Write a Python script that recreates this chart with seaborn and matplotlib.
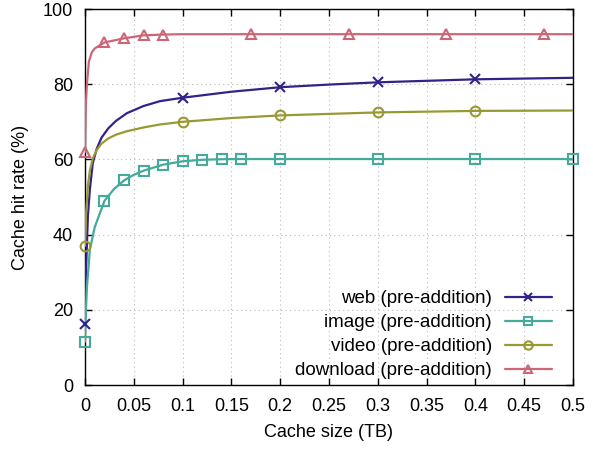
import matplotlib
matplotlib.use("Agg")
import matplotlib.pyplot as plt
from matplotlib.lines import Line2D
import seaborn as sns

# ===== DATA =====
labels = ["web (pre-addition)", "image (pre-addition)",
          "video (pre-addition)", "download (pre-addition)"]
colors = ["#332288", "#44aa99", "#999933", "#cc6677"]
markers = ["x", "s", "o", "^"]

web_x = [0, 0.001, 0.003, 0.005, 0.008, 0.012, 0.017, 0.024, 0.032, 0.043, 0.06, 0.077,
         0.1, 0.15, 0.2, 0.25, 0.3, 0.35, 0.4, 0.45, 0.5]
web_y = [16.5, 30, 45, 52, 59.0, 62.8, 65.8, 68.3, 70.3, 72.3, 74.2, 75.5,
         76.4, 78.0, 79.2, 79.9, 80.5, 80.9, 81.3, 81.5, 81.7]
web_mx = [0, 0.1, 0.2, 0.3, 0.4]
web_my = [16.3, 76.4, 79.2, 80.5, 81.3]

image_x = [0, 0.001, 0.002, 0.005, 0.01, 0.02, 0.03, 0.04, 0.05, 0.06, 0.08,
           0.1, 0.12, 0.14, 0.16, 0.2, 0.3, 0.4, 0.5]
image_y = [11.5, 20, 26, 36, 42, 49, 52.2, 54.4, 55.9, 57.0, 58.6,
           59.5, 59.9, 60.05, 60.1, 60.1, 60.1, 60.1, 60.1]
image_mx = [0, 0.02, 0.04, 0.06, 0.08, 0.1, 0.12, 0.14, 0.16, 0.2, 0.3, 0.4, 0.5]
image_my = [11.4, 49.0, 54.4, 57.0, 58.6, 59.5, 59.9, 60.05, 60.1, 60.1, 60.1, 60.1, 60.1]

video_x = [0, 0.001, 0.003, 0.005, 0.008, 0.012, 0.017, 0.024, 0.032, 0.043, 0.06, 0.077,
           0.1, 0.15, 0.2, 0.3, 0.4, 0.5]
video_y = [37, 45, 53, 57, 60.3, 62.5, 64.2, 65.6, 66.6, 67.5, 68.5, 69.3,
           70.0, 71.0, 71.7, 72.5, 72.9, 73.0]
video_mx = [0, 0.1, 0.2, 0.3, 0.4]
video_my = [37.0, 70.0, 71.7, 72.5, 72.9]

dl_x = [0, 0.001, 0.002, 0.004, 0.007, 0.01, 0.02, 0.04, 0.06, 0.08, 0.1, 0.2, 0.3, 0.4, 0.5]
dl_y = [62, 75, 80, 86, 88.5, 89.5, 91.1, 92.2, 93.0, 93.2, 93.3, 93.3, 93.3, 93.3, 93.3]
dl_mx = [0, 0.02, 0.04, 0.06, 0.08, 0.17, 0.27, 0.37, 0.47]
dl_my = [62.0, 91.1, 92.2, 93.0, 93.2, 93.3, 93.3, 93.3, 93.3]

lines = [(web_x, web_y), (image_x, image_y), (video_x, video_y), (dl_x, dl_y)]
points = [(web_mx, web_my), (image_mx, image_my), (video_mx, video_my), (dl_mx, dl_my)]

x_ticks = [0, 0.05, 0.1, 0.15, 0.2, 0.25, 0.3, 0.35, 0.4, 0.45, 0.5]
x_ticklabels = ["0", "0.05", "0.1", "0.15", "0.2", "0.25", "0.3", "0.35", "0.4", "0.45", "0.5"]
y_ticks = [0, 20, 40, 60, 80, 100]

# ===== PLOT =====
sns.set_style("ticks")
plt.rcParams["font.family"] = ["Liberation Sans", "DejaVu Sans"]
plt.rcParams["font.size"] = 13
plt.rcParams["text.color"] = "black"
plt.rcParams["axes.labelcolor"] = "black"
plt.rcParams["xtick.color"] = "black"
plt.rcParams["ytick.color"] = "black"

fig = plt.figure(figsize=(5.93, 4.5), dpi=100)
ax = fig.add_axes([0.1433, 0.1444, 0.823, 0.8356])

for (lx, ly), (mx, my), c, m in zip(lines, points, colors, markers):
    sns.lineplot(x=lx, y=ly, ax=ax, color=c, linewidth=1.6, sort=False,
                 estimator=None, zorder=3)
    ax.plot(mx, my, linestyle="none", marker=m, markersize=7,
            markerfacecolor="none", markeredgecolor=c, markeredgewidth=1.5,
            clip_on=False, zorder=4)

ax.set_xlim(0, 0.5)
ax.set_ylim(0, 100)
ax.set_xticks(x_ticks)
ax.set_xticklabels(x_ticklabels)
ax.set_yticks(y_ticks)
ax.grid(True, linestyle=(0, (1, 3)), color="#b8b8b8", linewidth=0.8)
ax.tick_params(direction="in", top=True, right=True, length=5, width=1, labelsize=13)
ax.tick_params(axis="x", pad=9.5)
ax.tick_params(axis="y", pad=8.5)
for sp in ax.spines.values():
    sp.set_linewidth(1)
    sp.set_color("black")

ax.set_xlabel("Cache size (TB)", fontsize=13)
ax.set_ylabel("Cache hit rate (%)", fontsize=13)
ax.xaxis.set_label_coords(0.5, -0.104)
ax.yaxis.set_label_coords(-0.115, 0.5)

handles = [Line2D([0], [0], color=c, marker=m, markersize=6, markerfacecolor="none",
                  markeredgewidth=1.5, linewidth=1.6) for c, m in zip(colors, markers)]
ax.legend(handles, labels, loc="lower right", frameon=False, markerfirst=False,
          handlelength=2.5, handletextpad=0.7, labelspacing=0.37, fontsize=13.5,
          borderaxespad=0, bbox_to_anchor=(0.972, -0.005))

fig.savefig("out.png", dpi=100)
